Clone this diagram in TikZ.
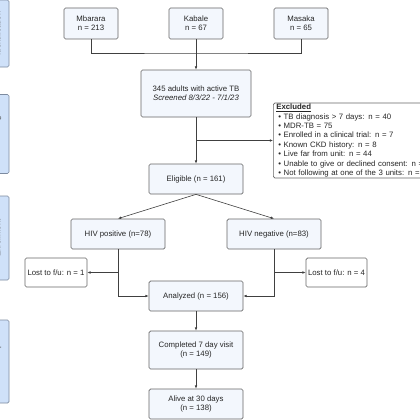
\documentclass[tikz,border=0pt]{standalone}
\usepackage{fontspec}
\setmainfont{Liberation Sans}
\usetikzlibrary{arrows.meta}
\definecolor{boxfill}{HTML}{F3F7FD}
\definecolor{boxline}{HTML}{666666}
\definecolor{sidefill}{HTML}{CFE1F9}
\definecolor{sideline}{HTML}{7D8BA0}
\begin{document}
\begin{tikzpicture}[x=1pt,y=-1pt,
  every node/.style={font=\fontsize{7.8}{9.4}\selectfont, text=black!85},
  flowbox/.style={draw=boxline, fill=boxfill, line width=0.7pt, rounded corners=1.5pt, align=center, inner sep=1pt},
  plainbox/.style={draw=boxline, fill=white, line width=0.7pt, rounded corners=1.5pt, inner sep=1pt},
  sidebox/.style={draw=sideline, fill=sidefill, line width=0.7pt, rounded corners=1.5pt, minimum width=30pt, inner sep=0pt},
  conn/.style={draw=black!75, line width=0.6pt},
  arr/.style={conn, -{Latex[length=3.2pt,width=2.6pt]}}]
\useasboundingbox (0,0) rectangle (420,420);
\fill[white] (0,0) rectangle (420,420);

% side phase boxes (mostly cut off)
\node[sidebox, minimum height=67pt] (p1) at (-6,33.5) {};
\node[sidebox, minimum height=79pt] (p2) at (-6,134) {};
\node[sidebox, minimum height=84pt] (p3) at (-6,238) {};
\node[sidebox, minimum height=83pt] (p4) at (-6,361.5) {};
\node[rotate=90, text=black!70] (t1) at (-2.5,33.5) {Identification};
\node[rotate=90, text=black!70] (t2) at (-2.5,134) {Screening};
\node[rotate=90, text=black!70] (t3) at (-2.5,238) {Enrollment};
\node[rotate=90, text=black!70] (t4) at (-2.5,361.5) {Follow-up};

% sites
\node[flowbox, minimum width=54pt, minimum height=31pt] (mb) at (91,23.5) {Mbarara\\n = 213};
\node[flowbox, minimum width=54pt, minimum height=31pt] (kb) at (196,23.5) {Kabale\\n = 67};
\node[flowbox, minimum width=54pt, minimum height=31pt] (ms) at (301,23.5) {Masaka\\n = 65};

\node[flowbox, minimum width=110pt, minimum height=47pt] (scr) at (196,93.5) {345 adults with active TB\\\textit{Screened 8/3/22 - 7/1/23}};

\node[plainbox, anchor=west, minimum width=170pt, minimum height=75pt, text width=164pt, align=left, inner xsep=3pt] (exc) at (273,140.5) {\textbf{\underline{Excluded}}\\
\hspace*{2pt}\textbullet\ TB diagnosis > 7 days: n = 40\\
\hspace*{2pt}\textbullet\ MDR-TB = 75\\
\hspace*{2pt}\textbullet\ Enrolled in a clinical trial: n = 7\\
\hspace*{2pt}\textbullet\ Known CKD history: n = 8\\
\hspace*{2pt}\textbullet\ Live far from unit: n = 44\\
\hspace*{2pt}\textbullet\ Unable to give or declined consent: n =\\
\hspace*{2pt}\textbullet\ Not following at one of the 3 units: n =};

\node[flowbox, minimum width=94pt, minimum height=30pt] (elig) at (196,179) {Eligible (n = 161)};
\node[flowbox, minimum width=94pt, minimum height=30pt] (hp) at (118,234) {HIV positive (n=78)};
\node[flowbox, minimum width=94pt, minimum height=30pt] (hn) at (274,234) {HIV negative (n=83)};
\node[plainbox, minimum width=62pt, minimum height=29pt] (l1) at (56,272.5) {Lost to f/u: n = 1};
\node[plainbox, minimum width=61pt, minimum height=29pt] (l2) at (336.5,272.5) {Lost to f/u: n = 4};
\node[flowbox, minimum width=94pt, minimum height=30pt] (an) at (196,296) {Analyzed (n = 156)};
\node[flowbox, minimum width=94pt, minimum height=38pt] (cp) at (196,350) {Completed 7 day visit\\(n = 149)};
\node[flowbox, minimum width=94pt, minimum height=30pt] (al) at (196,404) {Alive at 30 days\\(n = 138)};

% connectors
\coordinate (j1) at (196,53);
\coordinate (j2) at (196,140.5);
\coordinate (jl) at (118,272.5);
\coordinate (jr) at (274,272.5);
\draw[conn] (mb.south) |- (j1) -| (ms.south);
\draw[arr] (kb.south) -- (scr.north);
\draw[arr] (scr.south) -- (elig.north);
\draw[arr] (j2) -- (exc.west);
\draw[arr] (elig.south) -- (hp.north);
\draw[arr] (elig.south) -- (hn.north);
\draw[arr] (jl) -- (l1.east);
\draw[arr] (jr) -- (l2.west);
\draw[arr] (hp.south) |- (an.west);
\draw[arr] (hn.south) |- (an.east);
\draw[arr] (an.south) -- (cp.north);
\draw[arr] (cp.south) -- (al.north);
\end{tikzpicture}
\end{document}
